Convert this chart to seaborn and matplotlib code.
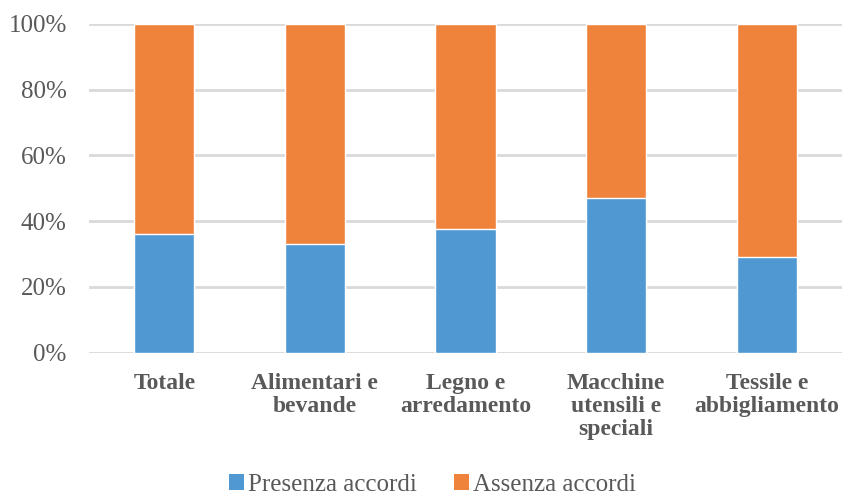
import numpy as np
import pandas as pd
import seaborn as sns
import matplotlib
matplotlib.use("Agg")
import matplotlib.pyplot as plt
from matplotlib.patches import Patch

# Share of firms per sector, in percent
categories = ["Totale", "Alimentari e\nbevande", "Legno e\narredamento",
              "Macchine\nutensili e\nspeciali", "Tessile e\nabbigliamento"]
presenza = [36, 33, 37.5, 47, 29]
assenza = [100 - v for v in presenza]
series_names = ["Presenza accordi", "Assenza accordi"]
y_ticks = [0, 20, 40, 60, 80, 100]

blue = "#4F98D2"
orange = "#F0833C"
grey_text = "#595959"
grid_col = "#D9D9D9"

sns.set_theme(style="white")
plt.rcParams["font.family"] = ["Liberation Serif", "DejaVu Serif"]

df = pd.DataFrame({"categoria": categories, "presenza": presenza, "assenza": assenza})
df["totale"] = df["presenza"] + df["assenza"]

fig = plt.figure(figsize=(8.43, 4.96), dpi=100)
ax = fig.add_axes([0.1056, 0.289, 0.8932, 0.6627])

# stacked bars: full height in orange, lower part in blue
sns.barplot(data=df, x="categoria", y="totale", color=orange, width=0.4,
            saturation=1, ax=ax, zorder=3)
sns.barplot(data=df, x="categoria", y="presenza", color=blue, width=0.4,
            saturation=1, ax=ax, zorder=4)

ax.set_ylim(0, 100)
ax.set_xlim(-0.5, len(categories) - 0.5)
ax.set_yticks(y_ticks)
ax.set_yticklabels([f"{t}%" for t in y_ticks])
ax.yaxis.grid(True, color=grid_col, linewidth=2, zorder=0)
ax.set_axisbelow(True)
for s in ax.spines.values():
    s.set_visible(False)
ax.set_xlabel("")
ax.set_ylabel("")
ax.tick_params(axis="y", length=0, pad=16, labelsize=18, labelcolor=grey_text)
ax.tick_params(axis="x", length=0, pad=15, labelsize=17, labelcolor=grey_text)
for lbl in ax.get_xticklabels():
    lbl.set_fontweight("bold")
    lbl.set_linespacing(1.1)
    lbl.set_verticalalignment("top")

handles = [Patch(facecolor=blue, edgecolor="none"), Patch(facecolor=orange, edgecolor="none")]
fig.legend(handles, series_names, loc="center", bbox_to_anchor=(0.513, 0.022),
           ncol=2, frameon=False, fontsize=18, handlelength=0.6, handleheight=0.6,
           handletextpad=0.15, columnspacing=1.5, labelcolor=grey_text,
           borderpad=0, borderaxespad=0)

fig.savefig("out.png", dpi=100)
